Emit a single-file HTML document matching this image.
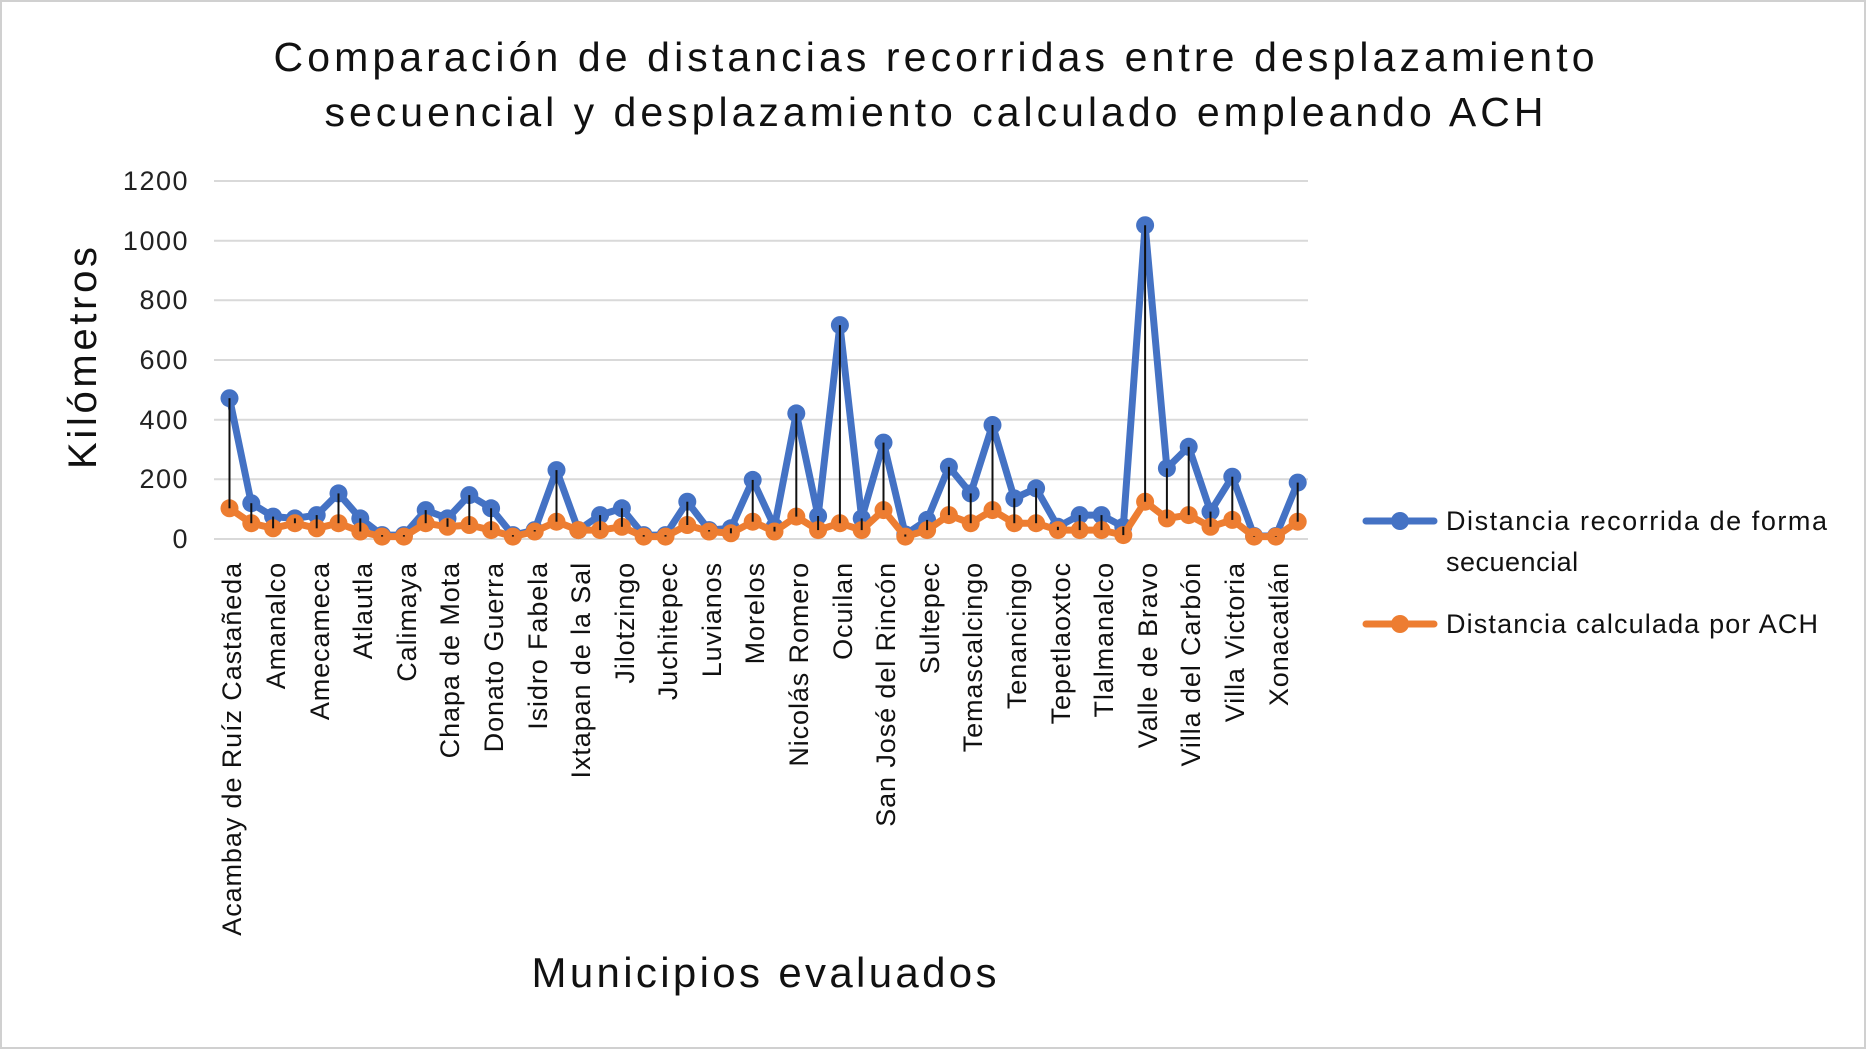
<!DOCTYPE html>
<html><head><meta charset="utf-8"><style>
html,body{margin:0;padding:0;background:#fff;}
svg{display:block;font-family:"Liberation Sans",sans-serif;}
</style></head><body>
<svg id="s" width="1866" height="1049" viewBox="0 0 1866 1049" xmlns="http://www.w3.org/2000/svg">
<rect x="1" y="1" width="1864" height="1047" fill="#fff" stroke="#d0d0d0" stroke-width="2"/>
<text x="934" y="71" font-size="41" text-anchor="middle" fill="#111" textLength="1321" lengthAdjust="spacing">Comparación de distancias recorridas entre desplazamiento</text>
<text x="934" y="126" font-size="41" text-anchor="middle" fill="#111" textLength="1219" lengthAdjust="spacing">secuencial y desplazamiento calculado empleando ACH</text>
<g stroke="#d9d9d9" stroke-width="2">
<line x1="214" x2="1308" y1="181" y2="181"/><line x1="214" x2="1308" y1="240.7" y2="240.7"/>
<line x1="214" x2="1308" y1="300.3" y2="300.3"/><line x1="214" x2="1308" y1="360" y2="360"/>
<line x1="214" x2="1308" y1="419.7" y2="419.7"/><line x1="214" x2="1308" y1="479.3" y2="479.3"/>
<line x1="214" x2="1308" y1="539" y2="539"/>
</g>
<g font-size="27" text-anchor="end" fill="#222" letter-spacing="1.5">
<text x="189" y="190">1200</text><text x="189" y="250">1000</text><text x="189" y="309">800</text>
<text x="189" y="369">600</text><text x="189" y="429">400</text><text x="189" y="488">200</text><text x="189" y="548">0</text>
</g>
<text transform="translate(96,358) rotate(-90)" font-size="40" text-anchor="middle" fill="#111" textLength="222" lengthAdjust="spacing">Kilómetros</text>
<g id="plot"></g>
<g font-size="27" fill="#111" text-anchor="end" letter-spacing="0.9">
<text transform="translate(241,562) rotate(-90)">Acambay de Ruíz Castañeda</text>
<text transform="translate(285,562) rotate(-90)">Amanalco</text>
<text transform="translate(329,562) rotate(-90)">Amecameca</text>
<text transform="translate(372,562) rotate(-90)">Atlautla</text>
<text transform="translate(416,562) rotate(-90)">Calimaya</text>
<text transform="translate(459,562) rotate(-90)">Chapa de Mota</text>
<text transform="translate(503,562) rotate(-90)">Donato Guerra</text>
<text transform="translate(547,562) rotate(-90)">Isidro Fabela</text>
<text transform="translate(590,562) rotate(-90)">Ixtapan de la Sal</text>
<text transform="translate(634,562) rotate(-90)">Jilotzingo</text>
<text transform="translate(677,562) rotate(-90)">Juchitepec</text>
<text transform="translate(721,562) rotate(-90)">Luvianos</text>
<text transform="translate(764,562) rotate(-90)">Morelos</text>
<text transform="translate(808,562) rotate(-90)">Nicolás Romero</text>
<text transform="translate(852,562) rotate(-90)">Ocuilan</text>
<text transform="translate(895,562) rotate(-90)">San José del Rincón</text>
<text transform="translate(939,562) rotate(-90)">Sultepec</text>
<text transform="translate(982,562) rotate(-90)">Temascalcingo</text>
<text transform="translate(1026,562) rotate(-90)">Tenancingo</text>
<text transform="translate(1070,562) rotate(-90)">Tepetlaoxtoc</text>
<text transform="translate(1113,562) rotate(-90)">Tlalmanalco</text>
<text transform="translate(1157,562) rotate(-90)">Valle de Bravo</text>
<text transform="translate(1200,562) rotate(-90)">Villa del Carbón</text>
<text transform="translate(1244,562) rotate(-90)">Villa Victoria</text>
<text transform="translate(1288,562) rotate(-90)">Xonacatlán</text>
</g>
<text x="764" y="987" font-size="42" text-anchor="middle" fill="#111" textLength="465" lengthAdjust="spacing">Municipios evaluados</text>
<line x1="1366" x2="1434" y1="521" y2="521" stroke="#4472c4" stroke-width="7" stroke-linecap="round"/>
<circle cx="1400" cy="521" r="9" fill="#4472c4"/>
<text x="1446" y="530" font-size="27" fill="#111" textLength="381" lengthAdjust="spacing">Distancia recorrida de forma</text>
<text x="1446" y="571" font-size="27" fill="#111" letter-spacing="0.5">secuencial</text>
<line x1="1366" x2="1434" y1="624" y2="624" stroke="#ed7d31" stroke-width="7" stroke-linecap="round"/>
<circle cx="1400" cy="624" r="9" fill="#ed7d31"/>
<text x="1446" y="633" font-size="27" fill="#111" textLength="372" lengthAdjust="spacing">Distancia calculada por ACH</text>
</svg>
<script>
var b=[472,120,75,69,80,153,69,13,13,97,69,147,103,13,30,231,30,80,103,13,13,125,30,36,198,41,421,77,717,69,323,15,64,242,153,382,136,170,41,80,80,41,1052,237,309,92,209,10,10,189];
var o=[103,53,36,53,36,53,25,8,8,53,41,47,30,8,25,58,30,30,41,8,8,47,25,19,58,25,75,30,53,30,97,8,30,80,53,97,53,53,30,30,30,13,125,69,80,41,64,8,8,58];
function X(i){return 229.5+21.8*i;}function Y(v){return 539-v*0.2983;}
var s='';
function series(a,c){var p=a.map(function(v,i){return X(i).toFixed(1)+','+Y(v).toFixed(1)}).join(' ');
var r='<polyline points="'+p+'" fill="none" stroke="'+c+'" stroke-width="7" stroke-linejoin="round" stroke-linecap="round"/>';
a.forEach(function(v,i){r+='<circle cx="'+X(i).toFixed(1)+'" cy="'+Y(v).toFixed(1)+'" r="9" fill="'+c+'"/>';});return r;}
s+=series(b,'#4472c4');s+=series(o,'#ed7d31');
for(var i=0;i<50;i++){s+='<line x1="'+X(i).toFixed(1)+'" x2="'+X(i).toFixed(1)+'" y1="'+Y(b[i]).toFixed(1)+'" y2="'+Y(o[i]).toFixed(1)+'" stroke="#111" stroke-width="2"/>';}
document.getElementById('plot').innerHTML=s;
</script>
</body></html>
